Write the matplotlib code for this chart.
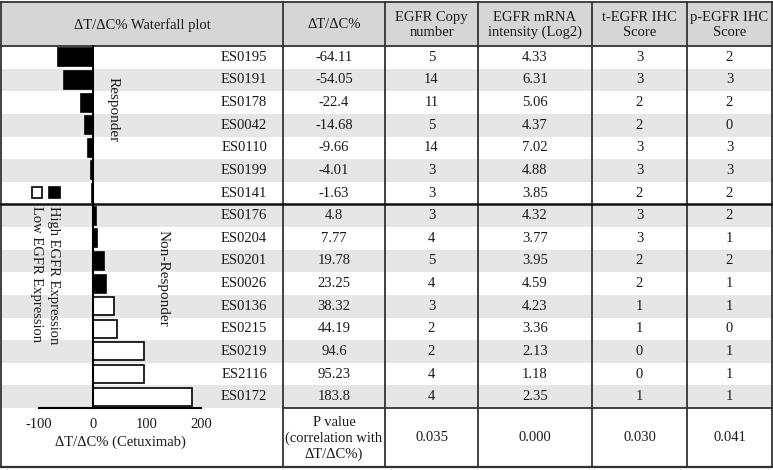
import matplotlib.pyplot as plt
from matplotlib.patches import Rectangle

plt.rcParams['font.family'] = ['Liberation Serif', 'DejaVu Serif']
plt.rcParams['axes.unicode_minus'] = False

samples = ['ES0195', 'ES0191', 'ES0178', 'ES0042', 'ES0110', 'ES0199', 'ES0141',
           'ES0176', 'ES0204', 'ES0201', 'ES0026', 'ES0136', 'ES0215', 'ES0219',
           'ES2116', 'ES0172']
dtdc = [-64.11, -54.05, -22.4, -14.68, -9.66, -4.01, -1.63,
        4.8, 7.77, 19.78, 23.25, 38.32, 44.19, 94.6, 95.23, 183.8]
dtdc_text = ['-64.11', '-54.05', '-22.4', '-14.68', '-9.66', '-4.01', '-1.63',
             '4.8', '7.77', '19.78', '23.25', '38.32', '44.19', '94.6', '95.23', '183.8']
copy_number = [5, 14, 11, 5, 14, 3, 3, 3, 4, 5, 4, 3, 2, 2, 4, 4]
mrna = ['4.33', '6.31', '5.06', '4.37', '7.02', '4.88', '3.85', '4.32',
        '3.77', '3.95', '4.59', '4.23', '3.36', '2.13', '1.18', '2.35']
t_ihc = [3, 3, 2, 2, 3, 3, 2, 3, 3, 2, 2, 1, 1, 0, 0, 1]
p_ihc = [2, 3, 2, 0, 3, 3, 2, 2, 1, 2, 1, 1, 0, 1, 1, 1]
expression = ['high'] * 11 + ['low'] * 5
n_responders = 7

headers = ['\u0394T/\u0394C% Waterfall plot', '\u0394T/\u0394C%', 'EGFR Copy\nnumber',
           'EGFR mRNA\nintensity (Log2)', 't-EGFR IHC\nScore', 'p-EGFR IHC\nScore']
p_label = 'P value\n(correlation with\n\u0394T/\u0394C%)'
p_values = ['0.035', '0.000', '0.030', '0.041']

# layout in pixels
W, H = 773, 470
col_edges = [1, 283, 385, 478, 592, 687, 772]
top, head_bot, data_bot, bot = 2, 46, 408, 467
row_h = (data_bot - head_bot) / len(samples)
zero_px, px_per_unit = 93, 0.54
fs = 10.5
txt = '#1a1a1a'
line_c = '#333333'

fig = plt.figure(figsize=(W / 100, H / 100), dpi=100)
bg = fig.add_axes([0, 0, 1, 1])
bg.set_xlim(0, W)
bg.set_ylim(H, 0)
bg.axis('off')

# header and row shading
bg.add_patch(Rectangle((col_edges[0], top), col_edges[-1] - col_edges[0], head_bot - top,
                       facecolor='#d6d6d6', edgecolor='none'))
for i in range(len(samples)):
    if i % 2 == 1:
        bg.add_patch(Rectangle((col_edges[0], head_bot + i * row_h), col_edges[-1] - col_edges[0],
                               row_h, facecolor='#e6e6e6', edgecolor='none'))

# grid lines
for x in col_edges:
    bg.plot([x, x], [top, bot], color=line_c, lw=1.3)
bg.plot([col_edges[0], col_edges[-1]], [top, top], color=line_c, lw=1.3)
bg.plot([col_edges[0], col_edges[-1]], [bot, bot], color=line_c, lw=1.6)
bg.plot([col_edges[0], col_edges[-1]], [head_bot, head_bot], color=line_c, lw=1.3)
bg.plot([col_edges[1], col_edges[-1]], [data_bot, data_bot], color=line_c, lw=1.3)
sep = head_bot + n_responders * row_h
bg.plot([col_edges[0], col_edges[-1]], [sep, sep], color='#111111', lw=1.8)

centers = [(col_edges[j] + col_edges[j + 1]) / 2 for j in range(6)]
for j, h in enumerate(headers):
    bg.text(centers[j], (top + head_bot) / 2 + 1, h, ha='center', va='center',
            fontsize=fs, color=txt, linespacing=1.2)

for i in range(len(samples)):
    y = head_bot + (i + 0.5) * row_h
    bg.text(267, y, samples[i], ha='right', va='center', fontsize=fs, color=txt)
    row = [dtdc_text[i], str(copy_number[i]), mrna[i], str(t_ihc[i]), str(p_ihc[i])]
    for j, v in enumerate(row):
        bg.text(centers[j + 1], y, v, ha='center', va='center', fontsize=fs, color=txt)

bg.text(centers[1], (data_bot + bot) / 2 + 1, p_label, ha='center', va='center',
        fontsize=fs, color=txt, linespacing=1.2)
for j, v in enumerate(p_values):
    bg.text(centers[j + 2], (data_bot + bot) / 2, v, ha='center', va='center',
            fontsize=fs, color=txt)

# legend and group labels
bg.add_patch(Rectangle((32, 187), 10, 11, facecolor='white', edgecolor='black', lw=1.2))
bg.add_patch(Rectangle((49, 187), 11, 11, facecolor='black', edgecolor='black', lw=1.2))
bg.text(53, 206, 'High EGFR Expression', rotation=270, ha='center', va='top', fontsize=fs, color=txt)
bg.text(36, 206, 'Low EGFR Expression', rotation=270, ha='center', va='top', fontsize=fs, color=txt)
bg.text(113, 110, 'Responder', rotation=270, ha='center', va='center', fontsize=fs + 0.5, color=txt)
bg.text(163, 278, 'Non-Responder', rotation=270, ha='center', va='center', fontsize=fs + 0.5, color=txt)

# waterfall plot
ax = fig.add_axes([0, (H - data_bot) / H, col_edges[1] / W, (data_bot - head_bot) / H])
ax.patch.set_alpha(0)
ax.set_xlim(-zero_px / px_per_unit, (col_edges[1] - zero_px) / px_per_unit)
ax.set_ylim(len(samples) - 0.5, -0.5)
colors = ['black' if e == 'high' else 'white' for e in expression]
ax.barh(range(len(samples)), dtdc, height=0.8, color=colors, edgecolor='black', lw=1.2)
for s in ['top', 'right']:
    ax.spines[s].set_visible(False)
ax.spines['left'].set_position(('data', 0))
ax.spines['left'].set_linewidth(1.5)
ax.spines['bottom'].set_bounds(-100, 200)
ax.spines['bottom'].set_linewidth(1.5)
ax.set_yticks([])
ax.set_xticks([-100, 0, 100, 200])
ax.tick_params(axis='x', length=0, pad=7, labelsize=fs, labelcolor=txt)
ax.set_xlabel('\u0394T/\u0394C% (Cetuximab)', fontsize=fs, color=txt)
ax.xaxis.set_label_coords(120 / col_edges[1], -34 / (data_bot - head_bot))
ax.xaxis.label.set_va('center')

fig.savefig('out.png', dpi=100)
